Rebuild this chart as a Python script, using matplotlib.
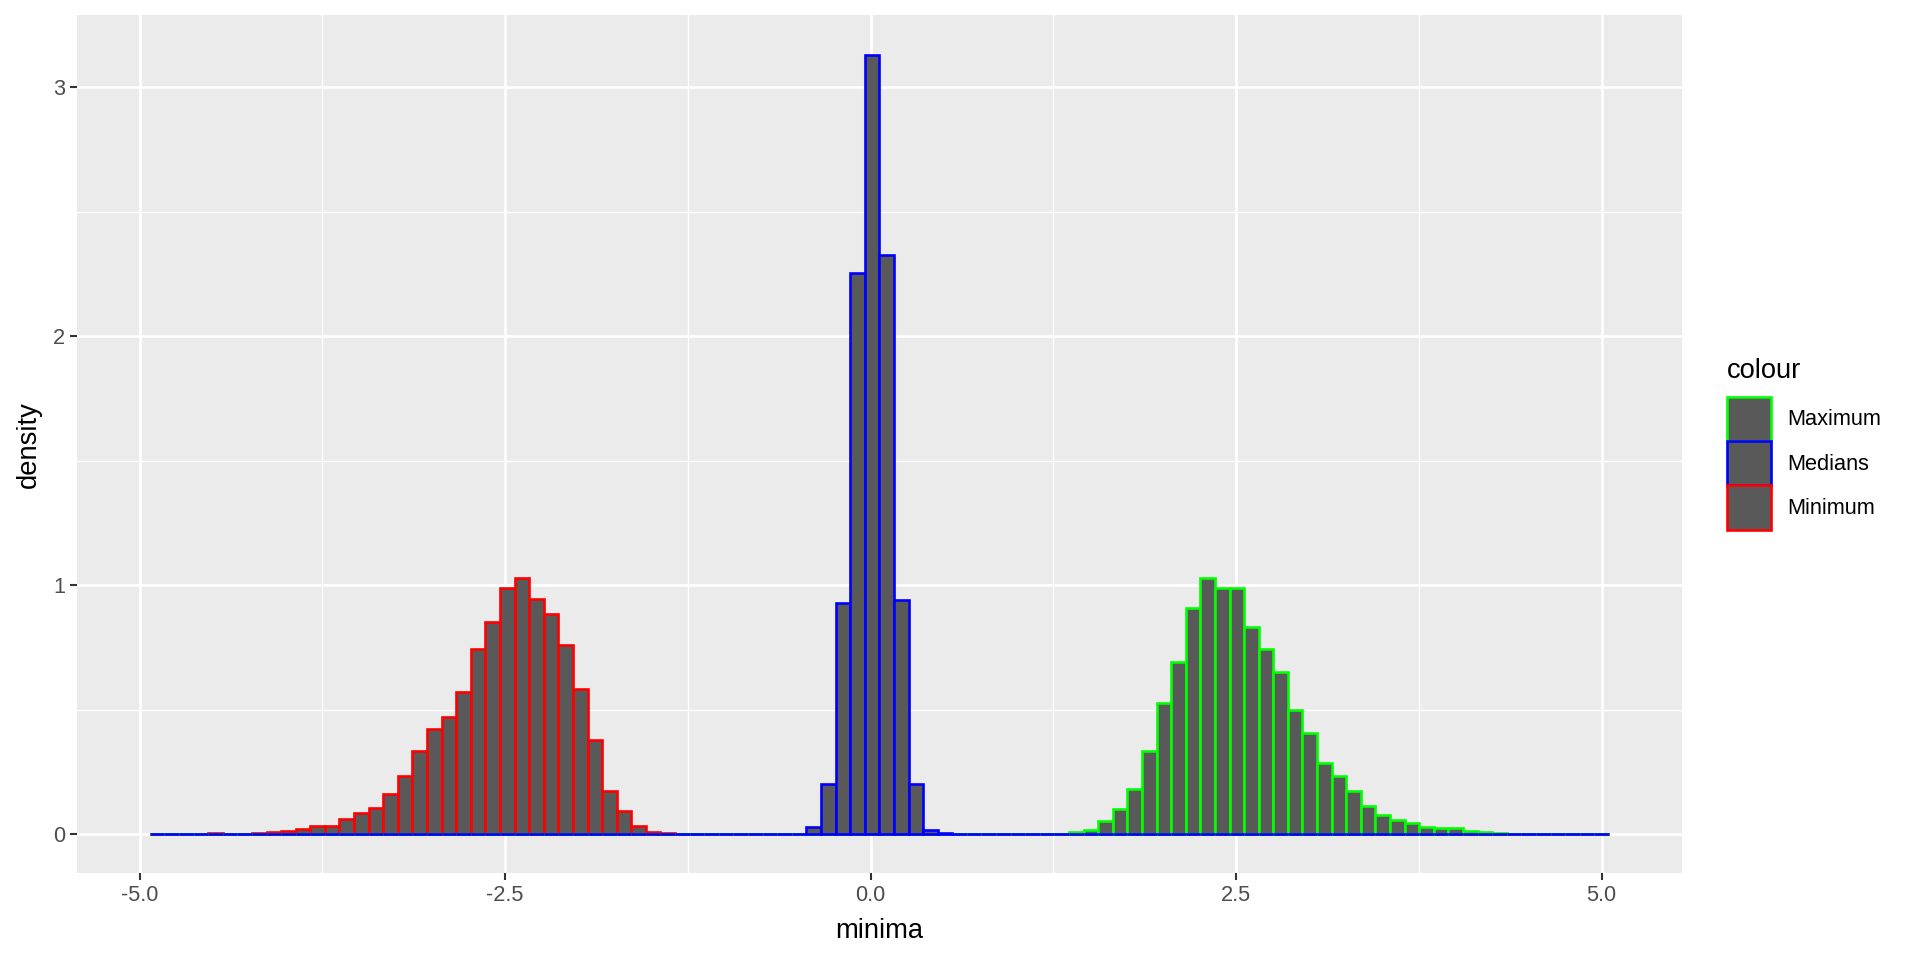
import matplotlib
matplotlib.use("Agg")
import matplotlib.pyplot as plt
from matplotlib.patches import Patch
import numpy as np

plt.rcParams['font.family'] = ['Liberation Sans', 'DejaVu Sans']

# common bin edges (100 bins)
edges = np.linspace(-4.93, 5.05, 101)

# bin heights (density); bins not listed are zero
minimum_bins = list(range(0, 37))
minimum_vals = [0, 0, 0, 0, 0.005, 0.002, 0.002, 0.006, 0.007, 0.011,
                0.020, 0.033, 0.034, 0.062, 0.086, 0.105, 0.163, 0.233, 0.335, 0.423,
                0.470, 0.569, 0.743, 0.850, 0.989, 1.030, 0.943, 0.886, 0.758, 0.581,
                0.380, 0.174, 0.092, 0.033, 0.009, 0.005, 0.001]

medians_bins = list(range(44, 56))
medians_vals = [0.001, 0.027, 0.201, 0.927, 2.253, 3.130, 2.325, 0.942, 0.201, 0.017,
                0.004, 0.001]

maximum_bins = list(range(62, 94))
maximum_vals = [0.002, 0.007, 0.017, 0.054, 0.103, 0.182, 0.335, 0.526, 0.692, 0.908,
                1.028, 0.987, 0.988, 0.833, 0.744, 0.652, 0.499, 0.406, 0.286, 0.234,
                0.174, 0.114, 0.078, 0.058, 0.046, 0.028, 0.024, 0.024, 0.013, 0.007,
                0.003, 0.001]

series = [("Minimum", minimum_bins, minimum_vals, "#FF0000"),
          ("Maximum", maximum_bins, maximum_vals, "#00FF00"),
          ("Medians", medians_bins, medians_vals, "#0000FF")]

fig = plt.figure(figsize=(19.2, 9.6), dpi=100)
ax = fig.add_axes([76.7 / 1920, 1 - 873.3 / 960, (1682 - 76.7) / 1920, (873.3 - 15) / 960])
ax.set_facecolor("#EBEBEB")

fill = "#595959"
for name, bins, vals, col in series:
    h = np.zeros(len(edges) - 1)
    h[bins] = vals
    ax.bar(edges[:-1], h, width=np.diff(edges), align="edge", color=fill,
           edgecolor=col, linewidth=1.9, zorder=3)

ax.set_xlim(-5.43, 5.55)
ax.set_ylim(-0.157, 3.289)
ax.set_xticks([-5.0, -2.5, 0.0, 2.5, 5.0])
ax.set_xticklabels(["-5.0", "-2.5", "0.0", "2.5", "5.0"])
ax.set_yticks([0, 1, 2, 3])
ax.set_xticks([-3.75, -1.25, 1.25, 3.75], minor=True)
ax.set_yticks([0.5, 1.5, 2.5], minor=True)
ax.grid(which="major", color="white", linewidth=1.9, zorder=0)
ax.grid(which="minor", color="white", linewidth=0.95, zorder=0)
ax.set_axisbelow(True)
for s in ax.spines.values():
    s.set_visible(False)
ax.tick_params(which="major", length=5.3, width=1.5, color="#333333",
               labelcolor="#4D4D4D", labelsize=15.7, pad=3)
ax.tick_params(which="minor", length=0)

ax.set_xlabel("minima", fontsize=19.7, color="black", labelpad=9)
ax.set_ylabel("density", fontsize=19.7, color="black", labelpad=8)

handles = [Patch(facecolor=fill, edgecolor=c, linewidth=1.9)
           for c in ["#00FF00", "#0000FF", "#FF0000"]]
leg = fig.legend(handles, ["Maximum", "Medians", "Minimum"], title="colour",
                 loc="center left", bbox_to_anchor=(1727 / 1920, 1 - 444 / 960),
                 frameon=False, fontsize=15.7, title_fontsize=19.7,
                 handlelength=2.0, handleheight=2.75, labelspacing=0.0,
                 handletextpad=0.75, borderpad=0, borderaxespad=0,
                 alignment="left")
leg._legend_box.sep = 9

fig.savefig("out.png", dpi=100)
